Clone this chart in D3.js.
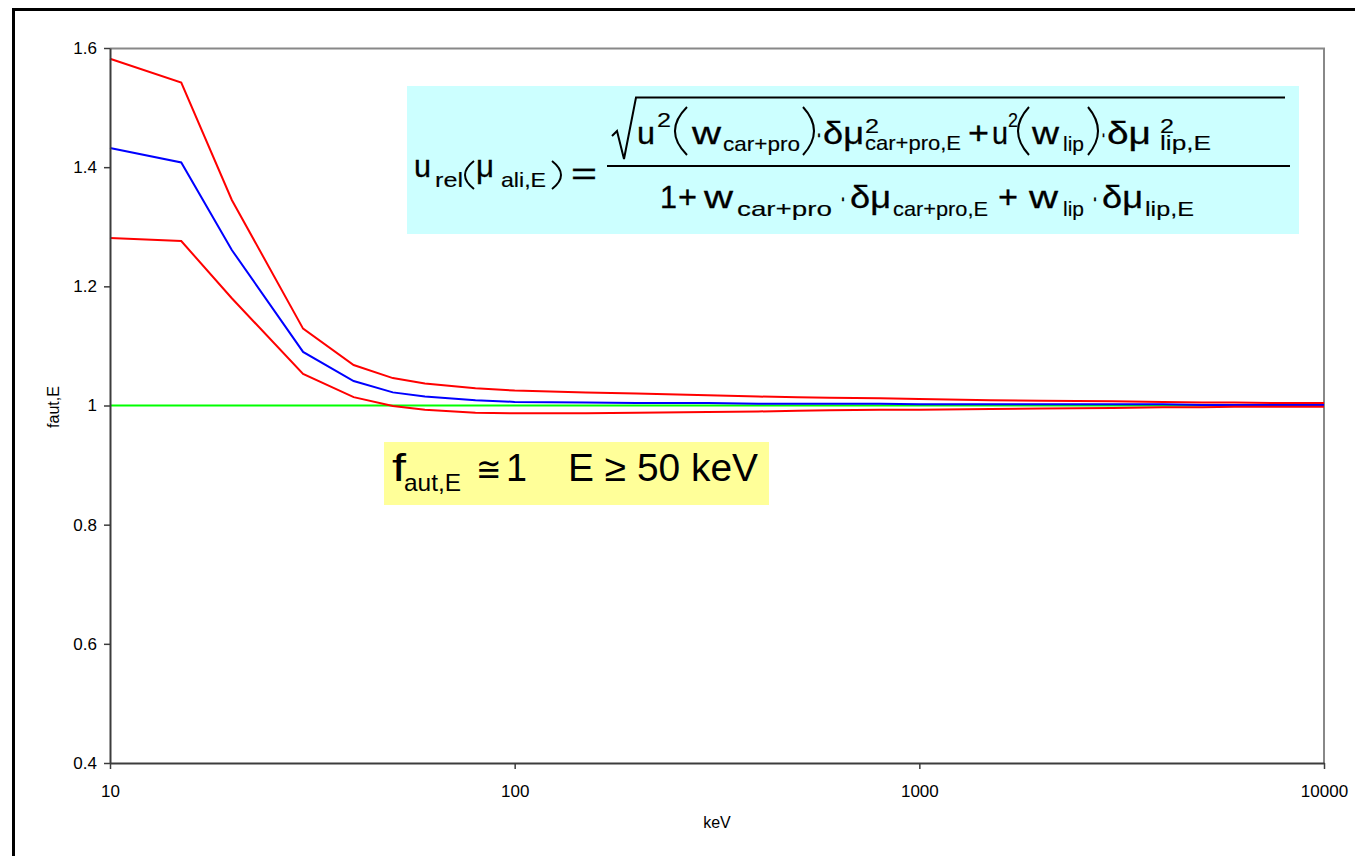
<!DOCTYPE html>
<html>
<head>
<meta charset="utf-8">
<script src="https://cdn.jsdelivr.net/npm/d3@7"></script>
<style>
    body { margin: 0; background: #fff; }
    svg text { font-family: "Liberation Sans", Arial, sans-serif; fill: #000; }
</style>
</head>
<body>
<div class="chart-container"></div>
<script>
// Energies (keV) and factor values
const energies = [10, 15, 20, 30, 40, 50, 60, 80, 100, 150, 200, 300, 400, 500, 600, 800,
    1000, 1500, 2000, 3000, 4000, 5000, 6000, 8000, 10000];
const upperValues = [1.582, 1.542, 1.345, 1.129, 1.068, 1.046, 1.037, 1.029, 1.025, 1.022, 1.020, 1.017, 1.015,
    1.014, 1.013, 1.012, 1.011, 1.009, 1.008, 1.007, 1.006, 1.005, 1.005, 1.004, 1.004];
const meanValues = [1.432, 1.408, 1.261, 1.090, 1.041, 1.022, 1.015, 1.009, 1.006, 1.005, 1.004, 1.004, 1.003,
    1.003, 1.003, 1.003, 1.002, 1.002, 1.002, 1.002, 1.002, 1.001, 1.001, 1.001, 1.001];
const lowerValues = [1.281, 1.276, 1.180, 1.053, 1.014, 0.999, 0.993, 0.988, 0.987, 0.987, 0.988, 0.989, 0.990,
    0.991, 0.992, 0.993, 0.993, 0.994, 0.995, 0.996, 0.997, 0.997, 0.998, 0.998, 0.998];
const unityValues = energies.map(() => 1);

const xTicks = [10, 100, 1000, 10000];
const yTicks = [0.4, 0.6, 0.8, 1.0, 1.2, 1.4, 1.6];
const xDomain = [10, 10000];
const yDomain = [0.4, 1.6];

const seriesList = [
    { name: 'unity', values: unityValues, color: '#00ff00' },
    { name: 'upper', values: upperValues, color: '#ff0000' },
    { name: 'mean', values: meanValues, color: '#0000ff' },
    { name: 'lower', values: lowerValues, color: '#ff0000' },
];

// Setup canvas
const svg_width = 1355;
const svg_height = 856;
const chart_margin = { top: 48, right: 31, bottom: 93, left: 110 };
const chart_width = svg_width - chart_margin.left - chart_margin.right;
const chart_height = svg_height - chart_margin.top - chart_margin.bottom;

const svg = d3.select('.chart-container').append('svg')
    .attr('width', svg_width).attr('height', svg_height);

// outer frame (runs off the right and bottom edge)
svg.append('rect')
    .attr('x', 13.5).attr('y', 9.5).attr('width', 1400).attr('height', 900)
    .attr('fill', 'none').attr('stroke', '#000').attr('stroke-width', 3);

const this_svg = svg.append('g')
    .attr('transform', `translate(${chart_margin.left}, ${chart_margin.top})`);

// scales
const xScale = d3.scaleLog().domain(xDomain).range([0, chart_width]);
const yScale = d3.scaleLinear().domain(yDomain).range([chart_height, 0]);

// plot border (top & right in gray)
this_svg.append('path')
    .attr('d', `M0,0.5H${chart_width}V${chart_height}`)
    .attr('fill', 'none').attr('stroke', '#888').attr('stroke-width', 2);

// Draw lines
const line = d3.line()
    .x((d, i) => xScale(energies[i]))
    .y(d => yScale(d));

this_svg.selectAll('.series')
    .data(seriesList)
    .enter()
    .append('path')
    .attr('class', 'series')
    .attr('d', d => line(d.values))
    .attr('fill', 'none')
    .attr('stroke', d => d.color)
    .attr('stroke-width', 2);

// Draw axis
const xAxis = d3.axisBottom(xScale).tickValues(xTicks).tickFormat(d3.format('d'))
    .tickSizeInner(6).tickSizeOuter(0).tickPadding(16);
const xAxisDraw = this_svg.append('g').attr('class', 'x axis')
    .attr('transform', `translate(0, ${chart_height})`).call(xAxis);

const yAxis = d3.axisLeft(yScale).tickValues(yTicks).tickFormat(d => String(+d.toFixed(1)))
    .tickSizeInner(6).tickSizeOuter(0).tickPadding(7);
const yAxisDraw = this_svg.append('g').attr('class', 'y axis').call(yAxis);

[xAxisDraw, yAxisDraw].forEach(ax => {
    ax.select('.domain').attr('stroke', '#3c3c3c').attr('stroke-width', 2);
    ax.selectAll('.tick line').attr('stroke', '#3c3c3c').attr('stroke-width', 1.5);
    ax.selectAll('text').style('font-size', '17px')
        .style('font-family', '"Liberation Sans", Arial, sans-serif').attr('fill', '#000');
});

// axis titles
svg.append('text')
    .attr('x', chart_margin.left + chart_width / 2).attr('y', 828)
    .attr('text-anchor', 'middle').style('font-size', '16px').text('keV');
svg.append('text')
    .attr('transform', 'translate(59, 407) rotate(-90)')
    .attr('text-anchor', 'middle').style('font-size', '16px').text('faut,E');

// Formula box (cyan)
svg.append('rect')
    .attr('x', 407).attr('y', 86).attr('width', 892).attr('height', 148)
    .attr('fill', '#ccffff');

// pieces: [text, x start, x end, baseline, font size]
const formulaPieces = [
    ['u', 414, 431, 177, 32], ['rel', 435, 463, 187, 21],
    ['μ', 476, 494, 177, 32], ['ali,E', 501, 546, 187, 21],
    ['=', 571, 597, 184, 32],
    // numerator
    ['u', 637, 655, 144, 32], ['2', 657, 671, 127, 21],
    ['w', 692, 721, 144, 32], ['car+pro', 723, 800, 151, 21],
    ['·', 816, 822, 144, 32], ['δμ', 823, 864, 144, 32], ['2', 865, 879, 133, 21],
    ['car+pro,E', 865, 961, 150, 21], ['+', 968, 989, 144, 32], ['u', 992, 1008, 144, 32],
    ['2', 1008, 1018, 127, 21], ['w', 1032, 1059, 144, 32],
    ['lip', 1063, 1084, 151, 21], ['·', 1101, 1106, 144, 32],
    ['δμ', 1107, 1151, 144, 32], ['2', 1160, 1174, 133, 21], ['lip,E', 1160, 1211, 150, 21],
    // denominator
    ['1', 660, 677, 208, 32], ['+', 678, 697, 208, 32], ['w', 704, 733, 208, 32],
    ['car+pro', 737, 832, 216, 21], ['·', 840, 846, 208, 32], ['δμ', 850, 891, 208, 32],
    ['car+pro,E', 893, 988, 216, 21], ['+', 998, 1018, 208, 32], ['w', 1029, 1058, 208, 32],
    ['lip', 1063, 1084, 216, 21], ['·', 1092, 1098, 208, 32], ['δμ', 1102, 1143, 208, 32],
    ['lip,E', 1145, 1194, 216, 21],
];

// thin delimiters: [left x, right x, top y, bottom y, opening?]
const parenPieces = [
    [465, 474, 161, 189, true], [552, 561, 161, 189, false],
    [675, 687, 107, 155, true], [803, 814, 107, 155, false],
    [1018, 1029, 107, 155, true], [1088, 1098, 107, 155, false],
];

const formula = svg.append('g').attr('class', 'formula');
formula.selectAll('text')
    .data(formulaPieces)
    .enter()
    .append('text')
    .attr('x', d => d[1]).attr('y', d => d[3])
    .attr('textLength', d => d[2] - d[1]).attr('lengthAdjust', 'spacingAndGlyphs')
    .style('font-size', d => d[4] + 'px')
    .attr('stroke', '#000').attr('stroke-width', d => d[4] > 25 ? 0.3 : 0.15)
    .text(d => d[0]);

formula.selectAll('.paren')
    .data(parenPieces)
    .enter()
    .append('path')
    .attr('class', 'paren')
    .attr('d', d => {
        const [x0, x1, y0, y1, open] = d;
        const ym = (y0 + y1) / 2;
        return open
            ? `M${x1},${y0}Q${2 * x0 - x1},${ym} ${x1},${y1}`
            : `M${x0},${y0}Q${2 * x1 - x0},${ym} ${x0},${y1}`;
    })
    .attr('fill', 'none').attr('stroke', '#000').attr('stroke-width', 2);

// fraction bar & radical
formula.append('path')
    .attr('d', 'M607,166H1290')
    .attr('stroke', '#000').attr('stroke-width', 2).attr('fill', 'none');
formula.append('path')
    .attr('d', 'M612,136L617,131L624,159L636,97.5H1285')
    .attr('stroke', '#000').attr('stroke-width', 2).attr('fill', 'none');

// Note box (yellow)
svg.append('rect')
    .attr('x', 384).attr('y', 442).attr('width', 385).attr('height', 63)
    .attr('fill', '#ffff99');

const notePieces = [
    ['f', 392, 406, 481, 38], ['aut,E', 404, 461, 491, 24], ['≅', 476, 501, 481, 34],
    ['1', 506, 527, 481, 38], ['E ≥ 50 keV', 568, 758, 481, 38],
];
svg.append('g').attr('class', 'note').selectAll('text')
    .data(notePieces)
    .enter()
    .append('text')
    .attr('x', d => d[1]).attr('y', d => d[3])
    .attr('textLength', d => d[2] - d[1]).attr('lengthAdjust', 'spacingAndGlyphs')
    .style('font-size', d => d[4] + 'px')
    .text(d => d[0]);
</script>
</body>
</html>
